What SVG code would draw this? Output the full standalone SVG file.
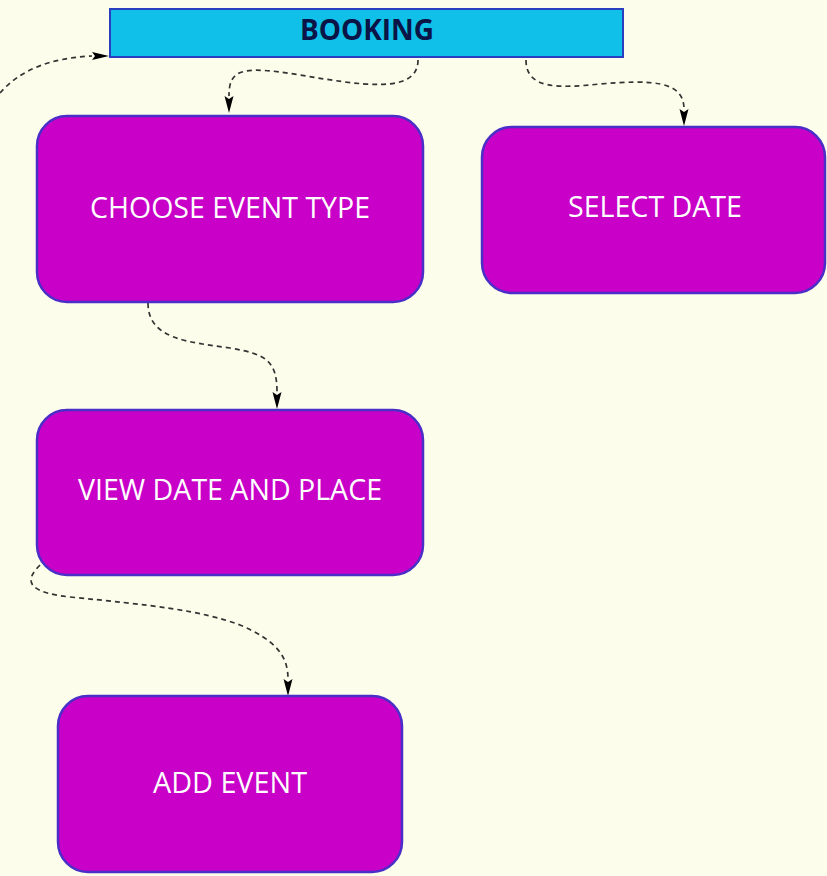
<svg xmlns="http://www.w3.org/2000/svg" width="827" height="876" viewBox="0 0 827 876">
<defs>
<style>
.node{fill:#c800c8;stroke:#4a2ec8;stroke-width:2.5}
.lbl{fill:#ffffff;font-family:"Open Sans","Noto Sans",sans-serif;font-size:30px;font-weight:500}
.conn{fill:none;stroke:#333333;stroke-width:1.7;stroke-dasharray:5 4}
.head{fill:#000000}
</style>
</defs>
<rect width="827" height="876" fill="#fdfdeb"/>
<g id="connectors">
<path class="conn" d="M0,93 C20,70 50,58 92,56"/>
<path class="head" d="M109,56 L92,52 L95,56 L92,60 Z"/>
<path class="conn" d="M418,60 C418,95 360,85 300,75 C240,65 229,70 229,96"/>
<path class="head" d="M229,113 L224.5,96 L229,99 L233.5,96 Z"/>
<path class="conn" d="M526,60 C526,90 560,88 600,84 C650,80 684,80 684,109"/>
<path class="head" d="M684,126 L679.5,109 L684,112 L688.5,109 Z"/>
<path class="conn" d="M148,303 C148,340 190,342 230,348 C265,354 277,360 277,392"/>
<path class="head" d="M277,409 L272.5,392 L277,395 L281.5,392 Z"/>
<path class="conn" d="M40,565 C25,580 25,592 70,597 C150,605 200,610 240,625 C275,640 288,655 288,679"/>
<path class="head" d="M288,696 L283.5,679 L288,682 L292.5,679 Z"/>
</g>
<g id="booking">
<rect x="110" y="9" width="513" height="48" fill="#10c0e8" stroke="#2a3fc0" stroke-width="2"/>
<text x="300" y="40" font-family="Open Sans, Noto Sans, sans-serif" font-weight="bold" font-size="29" fill="#0a1446" textLength="134" lengthAdjust="spacingAndGlyphs">BOOKING</text>
</g>
<g id="choose-event-type">
<rect class="node" x="37" y="116" width="386" height="186" rx="30"/>
<text class="lbl" x="90" y="218" textLength="280" lengthAdjust="spacingAndGlyphs">CHOOSE EVENT TYPE</text>
</g>
<g id="select-date">
<rect class="node" x="482" y="127" width="343" height="166" rx="30"/>
<text class="lbl" x="568" y="217" textLength="174" lengthAdjust="spacingAndGlyphs">SELECT DATE</text>
</g>
<g id="view-date-and-place">
<rect class="node" x="37" y="410" width="386" height="165" rx="30"/>
<text class="lbl" x="78" y="500" textLength="304" lengthAdjust="spacingAndGlyphs">VIEW DATE AND PLACE</text>
</g>
<g id="add-event">
<rect class="node" x="58" y="696" width="344" height="176" rx="30"/>
<text class="lbl" x="153" y="793" textLength="154" lengthAdjust="spacingAndGlyphs">ADD EVENT</text>
</g>
</svg>
